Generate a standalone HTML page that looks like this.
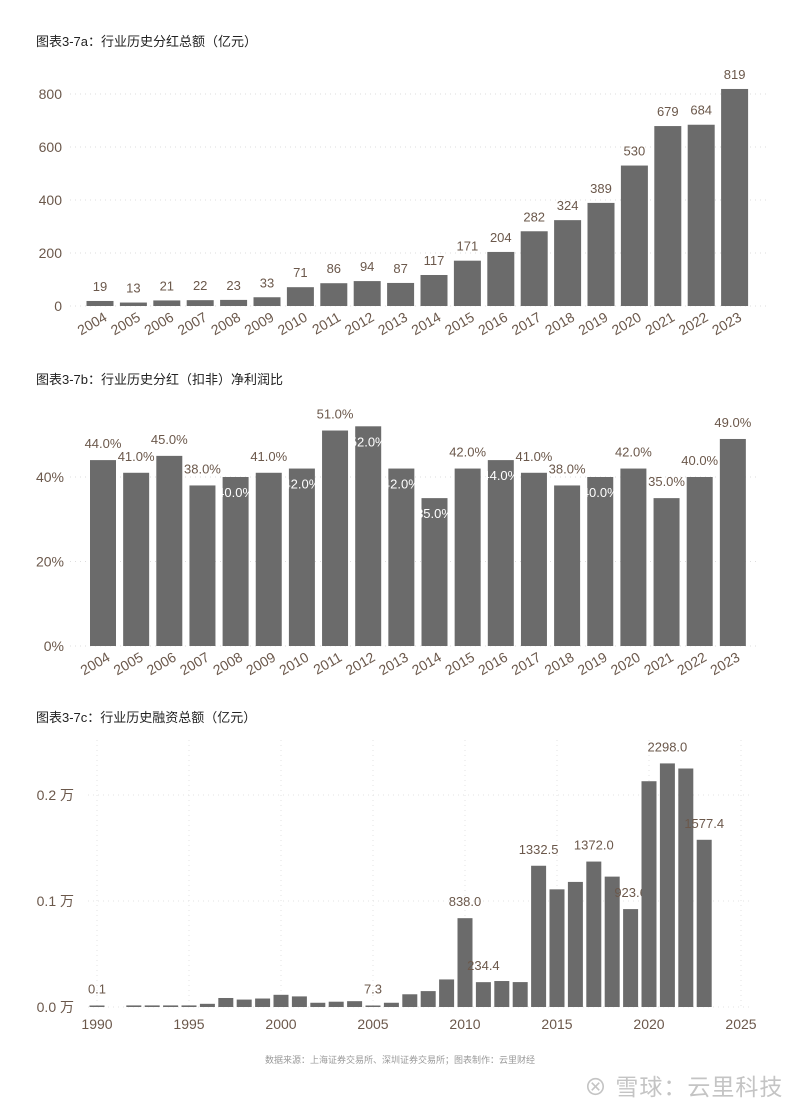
<!DOCTYPE html>
<html><head><meta charset="utf-8">
<style>
html,body{margin:0;padding:0;background:#fff;}
body{width:800px;height:1108px;position:relative;overflow:hidden;font-family:"Liberation Sans","Noto Sans CJK SC",sans-serif;}
.title{position:absolute;left:36px;font-size:13px;color:#222;}
svg{position:absolute;left:0;}
.foot{position:absolute;top:1053px;left:0;width:800px;text-align:center;font-size:9px;color:#999;}
.wm{position:absolute;top:1068px;left:584px;font-size:23px;color:#c4c4c4;letter-spacing:1px;}
</style></head><body>
<div class="title" style="top:31px">图表3-7a：行业历史分红总额（亿元）</div>
<div class="title" style="top:369px">图表3-7b：行业历史分红（扣非）净利润比</div>
<div class="title" style="top:707px">图表3-7c：行业历史融资总额（亿元）</div>
<svg id="ca" width="800" height="340" style="top:0"></svg>
<svg id="cb" width="800" height="340" style="top:340px"></svg>
<svg id="cc" width="800" height="370" style="top:700px"></svg>
<div class="foot">数据来源：上海证券交易所、深圳证券交易所；图表制作：云里财经</div>
<div class="wm">⊗ 雪球：云里科技</div>
<script>
const yearsA=["2004","2005","2006","2007","2008","2009","2010","2011","2012","2013","2014","2015","2016","2017","2018","2019","2020","2021","2022","2023"];
const valuesA=[19,13,21,22,23,33,71,86,94,87,117,171,204,282,324,389,530,679,684,819];
const ticksA=[0,200,400,600,800];
const valuesB=[44,41,45,38,40,41,42,51,52,42,35,42,44,41,38,40,42,35,40,49];
const ticksB=[0,20,40];
const insideB=[4,6,8,9,10,12,15];
const yearsC=[1990,1992,1993,1994,1995,1996,1997,1998,1999,2000,2001,2002,2003,2004,2005,2006,2007,2008,2009,2010,2011,2012,2013,2014,2015,2016,2017,2018,2019,2020,2021,2022,2023];
const valuesC=[0.1,15,15,15,15,30,85,70,80,115,100,40,50,55,7.3,40,120,150,260,838,234.4,245,235,1332.5,1110,1180,1372,1230,923.6,2130,2298,2250,1577.4];
const labelsC={0:"0.1",14:"7.3",19:"838.0",20:"234.4",23:"1332.5",26:"1372.0",28:"923.6",30:"2298.0",32:"1577.4"};
const ticksC=[0,1000,2000];
const ticksCLabels=["0.0 万","0.1 万","0.2 万"];
const xTicksC=[1990,1995,2000,2005,2010,2015,2020,2025];

const NS="http://www.w3.org/2000/svg";
function mk(svg,tag,attrs,text){const e=document.createElementNS(NS,tag);for(const k in attrs)e.setAttribute(k,attrs[k]);if(text!==undefined)e.textContent=text;svg.appendChild(e);return e;}
const LC="#6b584b",BC="#6b6b6b";

// Chart A
(function(){
const s=document.getElementById('ca');
const y0=306,py=212/800,x=i=>100+i*33.4,y=v=>y0-v*py;
ticksA.forEach(t=>{
 const g=mk(s,'line',{x1:70,x2:770,y1:y(t),y2:y(t),stroke:'#ddd','stroke-dasharray':'1,4'});
 
 const l=mk(s,'text',{x:62,y:y(t)+5,'text-anchor':'end','font-size':14,fill:LC},String(t));
 
});
valuesA.forEach((v,i)=>{
 const r=mk(s,'rect',{x:x(i)-13.5,y:y(v),width:27,height:v*py,fill:BC});
 
 const t=mk(s,'text',{x:x(i),y:y(v)-10,'text-anchor':'middle','font-size':13,fill:LC},String(v));
 
 const xl=mk(s,'text',{x:x(i)+8,y:y0+14,'text-anchor':'end','font-size':14,fill:LC,transform:`rotate(-30 ${x(i)+8} ${y0+14})`},yearsA[i]);
 
});
})();

// Chart B
(function(){
const s=document.getElementById('cb');
const y0=306,py=169/40,x=i=>103+i*33.15,y=v=>y0-v*py;
ticksB.forEach(t=>{
 const g=mk(s,'line',{x1:70,x2:760,y1:y(t),y2:y(t),stroke:'#ddd','stroke-dasharray':'1,4'});
 
 const l=mk(s,'text',{x:64,y:y(t)+5,'text-anchor':'end','font-size':14,fill:LC},t+'%');
 
});
valuesB.forEach((v,i)=>{
 const r=mk(s,'rect',{x:x(i)-13,y:y(v),width:26,height:v*py,fill:BC});
 
 const ins=insideB.includes(i);
 const t=mk(s,'text',{x:x(i),y:ins?y(v)+20:y(v)-12,'text-anchor':'middle','font-size':13,fill:ins?'#fff':LC},v.toFixed(1)+'%');
 
 const xl=mk(s,'text',{x:x(i)+8,y:y0+14,'text-anchor':'end','font-size':14,fill:LC,transform:`rotate(-30 ${x(i)+8} ${y0+14})`},yearsA[i]);
 
});
})();

// Chart C
(function(){
const s=document.getElementById('cc');
const y0=307,py=106/1000,x=yr=>97+(yr-1990)*18.4,y=v=>y0-v*py;
xTicksC.forEach(t=>{
 const g=mk(s,'line',{x1:x(t),x2:x(t),y1:40,y2:y0,stroke:'#e3e3e3','stroke-dasharray':'1,4'});
 
 const l=mk(s,'text',{x:x(t),y:y0+22,'text-anchor':'middle','font-size':14,fill:LC},String(t));
 
});
ticksC.forEach((t,k)=>{
 const g=mk(s,'line',{x1:88,x2:752,y1:y(t),y2:y(t),stroke:'#e3e3e3','stroke-dasharray':'1,4'});
 
 const l=mk(s,'text',{x:74,y:y(t)+5,'text-anchor':'end','font-size':14,fill:LC},ticksCLabels[k]);
 
});
yearsC.forEach((yr,i)=>{
 const v=valuesC[i];
 const h=Math.max(v*py,1.5);
 const r=mk(s,'rect',{x:x(yr)-7.5,y:y0-h,width:15,height:h,fill:BC});
 
 if(labelsC[i]!==undefined){
  const t=mk(s,'text',{x:x(yr),y:y0-h-12,'text-anchor':'middle','font-size':13,fill:LC},labelsC[i]);
  
 }
});
})();
</script>
</body></html>
